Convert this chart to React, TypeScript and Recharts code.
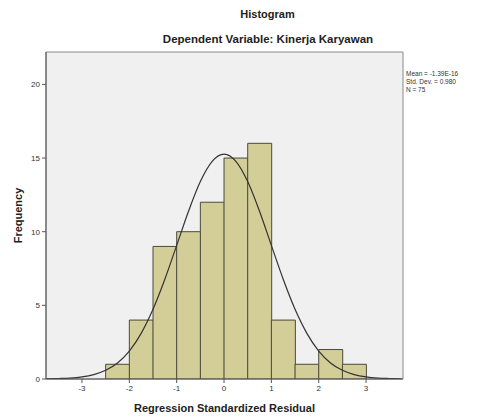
import React from "react";
import {Bar, CartesianGrid, ComposedChart, Label, Line, ReferenceArea, XAxis, YAxis} from "recharts";

// histogram bins (width 0.5), centre of each bin
const binCenters = [-2.25, -1.75, -1.25, -0.75, -0.25, 0.25, 0.75, 1.25, 1.75, 2.25, 2.75];
const counts = [1, 4, 9, 10, 12, 15, 16, 4, 1, 2, 1];

// normal curve
const curveX = [-3.75, -3.5, -3.25, -3, -2.75, -2.5, -2.25, -2, -1.75, -1.5, -1.25, -1, -0.75, -0.5, -0.25, 0,
   0.25, 0.5, 0.75, 1, 1.25, 1.5, 1.75, 2, 2.25, 2.5, 2.75, 3, 3.25, 3.5, 3.75];
const curveY = [0.01, 0.03, 0.06, 0.14, 0.3, 0.59, 1.09, 1.9, 3.1, 4.73, 6.77, 9.07, 11.39, 13.41, 14.78, 15.27,
   14.78, 13.41, 11.39, 9.07, 6.77, 4.73, 3.1, 1.9, 1.09, 0.59, 0.3, 0.14, 0.06, 0.03, 0.01];

const xTicks = [-3, -2, -1, 0, 1, 2, 3];
const yTicks = [0, 5, 10, 15, 20];
const stats = ["Mean = -1.39E-16", "Std. Dev. = 0.980", "N = 75"];

const xDomain = [-3.76, 3.78];
const yDomain = [0, 22.2];

const bins = binCenters.map((x, i) => ({x, count: counts[i]}));
const curve = curveX.map((x, i) => ({cx: x, fit: curveY[i]}));

const font = "Arial, 'Liberation Sans', sans-serif";

const App: React.FC = () => {
   return (
      <div style={{position: "absolute", left: 0, top: 0, width: 485, height: 420, background: "#fff", fontFamily: font}}>
         <div style={{position: "absolute", top: 8, left: 0, width: 535, textAlign: "center", fontSize: 11, fontWeight: "bold", color: "#222"}}>
            Histogram
         </div>
         <div style={{position: "absolute", top: 33, left: 0, width: 536, textAlign: "center", fontSize: 11.5, fontWeight: "bold", color: "#222"}}>
            Dependent Variable: Kinerja Karyawan
         </div>
         <div style={{position: "absolute", top: 70, left: 406, fontSize: 6.5, lineHeight: "8px", color: "#333"}}>
            {stats.map((s) => <div key={s}>{s}</div>)}
         </div>
         <ComposedChart
            width={485}
            height={420}
            data={bins}
            margin={{top: 52, right: 82, left: 16, bottom: 11}}
            barCategoryGap={0}
            barGap={0}
         >
            <CartesianGrid horizontal={false} vertical={false} fill="#f0f0f0"/>
            <XAxis
               type="number"
               dataKey="x"
               domain={xDomain}
               ticks={xTicks}
               allowDataOverflow
               height={30}
               tickSize={4}
               stroke="#555"
               tick={{fontSize: 8, fill: "#333", fontFamily: font}}
            >
               <Label value="Regression Standardized Residual" position="insideBottom" offset={-3}
                      style={{fontSize: 11, fontWeight: "bold", fill: "#222", fontFamily: font}}/>
            </XAxis>
            <XAxis xAxisId="curve" type="number" dataKey="cx" domain={xDomain} allowDataOverflow hide/>
            <YAxis
               type="number"
               domain={yDomain}
               ticks={yTicks}
               allowDataOverflow
               width={30}
               tickSize={4}
               stroke="#555"
               tick={{fontSize: 8, fill: "#333", fontFamily: font}}
            >
               <Label value="Frequency" angle={-90} position="insideLeft" offset={2}
                      style={{fontSize: 11, fontWeight: "bold", fill: "#222", fontFamily: font, textAnchor: "middle"}}/>
            </YAxis>
            <ReferenceArea x1={xDomain[0]} x2={xDomain[1]} y1={yDomain[0]} y2={yDomain[1]}
                           fill="none" stroke="#888" strokeWidth={1} ifOverflow="visible"/>
            <Bar dataKey="count" fill="#d3cd98" stroke="#4a4a3c" strokeWidth={1} isAnimationActive={false}/>
            <Line xAxisId="curve" data={curve} dataKey="fit" type="monotone" stroke="#333" strokeWidth={1.2}
                  dot={false} activeDot={false} isAnimationActive={false}/>
         </ComposedChart>
      </div>
   );
};

export default App;
